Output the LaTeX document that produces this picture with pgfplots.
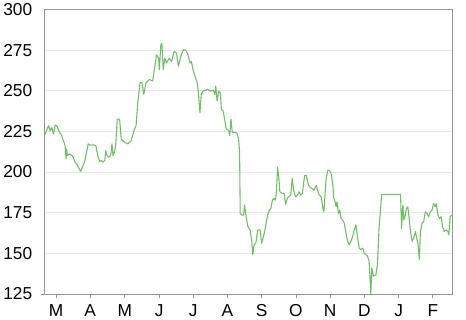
\documentclass[border=0pt]{standalone}
\usepackage{fontspec}
\setmainfont{Liberation Sans}
\usepackage{pgfplots}
\pgfplotsset{compat=1.18}
\definecolor{linegreen}{RGB}{112,190,102}
\definecolor{axgray}{RGB}{150,150,150}
\definecolor{gridgray}{RGB}{232,232,232}
\begin{document}
\begin{tikzpicture}
\begin{axis}[
  scale only axis, width=411bp, height=287bp,
  xmin=41, xmax=452, ymin=125, ymax=300,
  axis line style={axgray, line width=0.8pt},
  ytick={125,150,175,200,225,250,275,300},
  xtick={52.5,87,122,156.5,191,225.5,260,294.5,329,363.5,398,432.5},
  xticklabels={M,A,M,J,J,A,S,O,N,D,J,F},
  ymajorgrids, major grid style={gridgray, line width=0.6pt},
  xtick pos=bottom, ytick pos=left,
  major tick length=4bp, tick align=outside,
  x tick style={axgray, line width=0.8pt},
  y tick style={draw=none},
  extra y ticks={125}, extra y tick labels={},
  extra y tick style={y tick style={draw=axgray, line width=0.8pt}, grid=none},
  /pgf/number format/assume math mode=true,
  ticklabel style={font=\fontsize{17.5}{20}\selectfont, text=black},
  yticklabel style={xshift=-5bp},
  xticklabel style={yshift=-3bp},
  clip=false,
]
\addplot[linegreen, line width=1.1pt, line join=round] table {
41 222.6
45 228.5
46.7 225.4
48.3 227.4
50 223.4
51.7 228.9
53.3 228.5
56 224.4
58.3 222.4
60 219.3
61.7 216.3
62.7 208.1
63.3 214.2
64 210.2
66 211.2
68.3 210.2
70 209.1
71.7 206.1
73.3 205.1
76 202
77.3 200.4
79.3 203
81.7 207.1
83.3 212.2
85 217.3
86.7 216.5
90 216.7
92.7 216.3
94 212.2
95 209.1
96.7 206.5
98.3 207.1
100 206.1
101.7 207.1
102.7 213.2
104 210.2
105.7 209.1
107.7 210.2
109 217.3
110 210.2
111 211.2
112.7 216.3
114.3 232.5
116.7 232.5
118.3 220.3
121.7 218.3
125 217.3
128.3 219.3
131.7 226.4
133.3 228.6
135 242.7
137.3 254.9
139.3 255
141 247.8
143.3 254.9
146.7 256.9
150 256
151.7 263
154 272.1
156 270
156.7 263
158.3 278.3
159.3 279.3
160.7 263
162.3 270
164 267
166.7 270
169 268
171.7 274.2
174 273.2
176 265
178.3 271
181 275.2
183.3 275
185.7 272
187.7 267
189 268
190.7 263
192.7 259
195 254.9
196 249.8
197.7 236.6
199 247.8
201 249.8
205 250.8
208.3 249.8
211 250.4
212.7 247.8
213.7 252.9
215 243.7
216.7 249.8
218.3 248.8
219.3 238.6
221 237.6
222.3 233.5
224.3 226.4
226.7 225.4
227.7 222.4
229 232.5
230.3 224.4
232.3 224.4
235 224
236.7 220.3
237.7 212.2
238.3 174.6
240 173.6
241.7 173.6
242.7 179.7
244 173.6
246 166.5
248.3 164.4
250 157.3
251 149.2
252.3 155.3
254 156.2
256 164.4
258.3 164.4
260 156.2
261.7 160.4
263.3 164.4
266 173.6
267.7 176.6
269.3 177.6
270.7 182.7
272.3 183.7
274 182.7
275 189.8
276 203
277.3 196.1
278.3 187.8
280.7 186.8
282.7 186.8
284 180.1
285.7 183.7
287.3 184.8
289.3 185.8
290.7 196.1
292.3 188.8
294 184.8
296 185.8
297.7 187.8
299.3 185.8
301 186.8
303.3 198
305 198
306.7 192.9
308.3 190.9
310.7 189.8
312.7 188.8
315 191.9
316.7 187.8
318.3 185.8
320 184.8
321.7 177.6
322.7 175.6
324 187.8
325 196.1
326.7 201
328.3 201
330 199
331.7 191.9
332.7 183.7
334 181.7
335 178.7
336 181.7
337.3 174.6
338.7 176.6
340 171.5
341.7 170.5
343.3 168.5
345 162.4
346.7 157.3
348.3 155.3
350 157.3
351.7 160.4
353.3 164.4
355 167.5
356.7 159.3
358.3 153.2
360 152.2
361.7 153.2
363.3 150.2
365 149.2
366.7 148.2
368.3 145.1
369.3 134
370 125
371 141
372.7 136
375 136.6
376.7 143
378.3 165.4
381 186.2
400 186.2
401 165.4
402.3 179.7
403.3 170.5
404.7 173.6
406 177.6
407.3 178.7
408.7 171.5
410 163.4
411.7 157.3
413.3 159.3
415 163.4
416.7 158.3
417.7 155.3
419 146.1
420 163.4
421.7 168.5
423.3 169.5
425 175.6
426.7 174.6
428.3 172.5
430 175.6
431.7 176.6
433.3 180.7
435 178.7
436 180.7
437.7 173.6
439.3 171.5
441 172.5
442.3 166.5
444 163.4
446 164.4
447.7 163.4
448.7 161.4
450 172.5
451.7 173.6
};
\end{axis}
\path (current axis.north east) ++(14bp,0) coordinate (bbr);
\path (bbr);
\end{tikzpicture}
\end{document}
